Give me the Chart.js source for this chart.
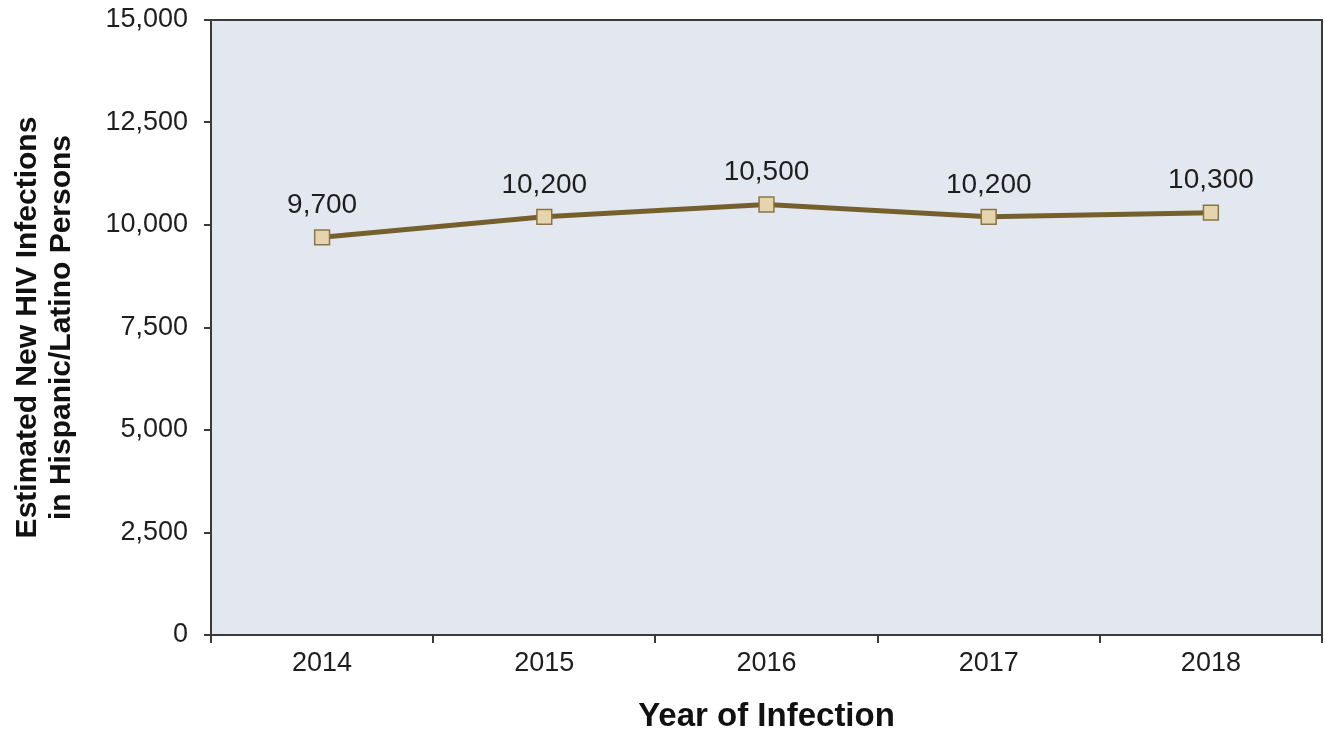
<!DOCTYPE html>
<html>
<head>
<meta charset="utf-8">
<title>Estimated New HIV Infections in Hispanic/Latino Persons</title>
<script src="https://cdn.jsdelivr.net/npm/chart.js@4.4.1/dist/chart.umd.min.js"></script>
<style>
  html, body { margin: 0; padding: 0; background: #ffffff; }
  #wrap { width: 1325px; height: 738px; position: relative; }
</style>
</head>
<body>
<div id="wrap"><canvas id="chart" width="1325" height="738"></canvas></div>
<script>
// Years of infection and estimated new infections per year
const years = ['2014', '2015', '2016', '2017', '2018'];
const infections = [9700, 10200, 10500, 10200, 10300];

// Y axis range and tick step
const yMin = 0;
const yMax = 15000;
const yStep = 2500;

const yTitle = ['Estimated New HIV Infections', 'in Hispanic/Latino Persons'];
const xTitle = 'Year of Infection';

const FONT = '"Liberation Sans", Arial, Helvetica, sans-serif';
const fmt = v => v.toLocaleString('en-US');

// Shaded plot area with a dark frame around it
const plotFrame = {
  id: 'plotFrame',
  beforeDatasetsDraw(chart) {
    const { ctx, chartArea: a } = chart;
    ctx.save();
    ctx.fillStyle = '#e3e8f0';
    ctx.fillRect(a.left, a.top, a.right - a.left, a.bottom - a.top);
    ctx.restore();
  },
  afterDraw(chart) {
    const { ctx, chartArea: a } = chart;
    ctx.save();
    ctx.strokeStyle = '#3a3a3a';
    ctx.lineWidth = 2;
    ctx.strokeRect(a.left, a.top, a.right - a.left, a.bottom - a.top);
    ctx.restore();
  }
};

// Value labels above each point
const valueLabels = {
  id: 'valueLabels',
  afterDatasetsDraw(chart) {
    const { ctx } = chart;
    const meta = chart.getDatasetMeta(0);
    const data = chart.data.datasets[0].data;
    ctx.save();
    ctx.font = '28px ' + FONT;
    ctx.fillStyle = '#1e1e1e';
    ctx.textAlign = 'center';
    ctx.textBaseline = 'middle';
    meta.data.forEach((pt, i) => {
      ctx.fillText(fmt(data[i]), pt.x, pt.y - 32);
    });
    ctx.restore();
  }
};

new Chart(document.getElementById('chart'), {
  type: 'line',
  data: {
    labels: years,
    datasets: [{
      data: infections,
      borderColor: '#75602d',
      borderWidth: 5,
      pointStyle: 'rect',
      pointRadius: 10.5,
      pointHoverRadius: 10.5,
      pointBackgroundColor: '#e6d4ae',
      pointBorderColor: '#8b7444',
      pointBorderWidth: 1.5,
      tension: 0,
      clip: false
    }]
  },
  options: {
    responsive: false,
    animation: false,
    devicePixelRatio: 1,
    layout: { autoPadding: false, padding: { top: 20, right: 3, left: 0, bottom: 0 } },
    plugins: {
      legend: { display: false },
      tooltip: { enabled: false }
    },
    scales: {
      x: {
        type: 'category',
        offset: true,
        grid: {
          offset: true,
          drawOnChartArea: false,
          drawTicks: true,
          tickLength: 8,
          color: '#3a3a3a',
          lineWidth: 2
        },
        border: { display: true, color: '#3a3a3a', width: 2 },
        ticks: {
          color: '#1e1e1e',
          font: { family: FONT, size: 27 },
          padding: 4,
          maxRotation: 0
        },
        title: {
          display: true,
          text: xTitle,
          color: '#111111',
          font: { family: FONT, size: 33, weight: 'bold' },
          padding: { top: 0, bottom: 1 }
        },
        afterFit(scale) {
          scale.height = 103;
          scale.paddingLeft = 0;
          scale.paddingRight = 0;
        }
      },
      y: {
        min: yMin,
        max: yMax,
        grid: {
          drawOnChartArea: false,
          drawTicks: true,
          tickLength: 7,
          color: '#3a3a3a',
          lineWidth: 2
        },
        border: { display: true, color: '#3a3a3a', width: 2 },
        ticks: {
          stepSize: yStep,
          color: '#1e1e1e',
          font: { family: FONT, size: 27 },
          padding: 16,
          callback: v => fmt(v)
        },
        title: {
          display: true,
          text: yTitle,
          color: '#111111',
          font: { family: FONT, size: 30, weight: 'bold', lineHeight: 1.13 },
          padding: { top: 11, bottom: 0 }
        },
        afterFit(scale) {
          scale.width = 211;
          scale.paddingTop = 0;
          scale.paddingBottom = 0;
        }
      }
    }
  },
  plugins: [plotFrame, valueLabels]
});
</script>
</body>
</html>
